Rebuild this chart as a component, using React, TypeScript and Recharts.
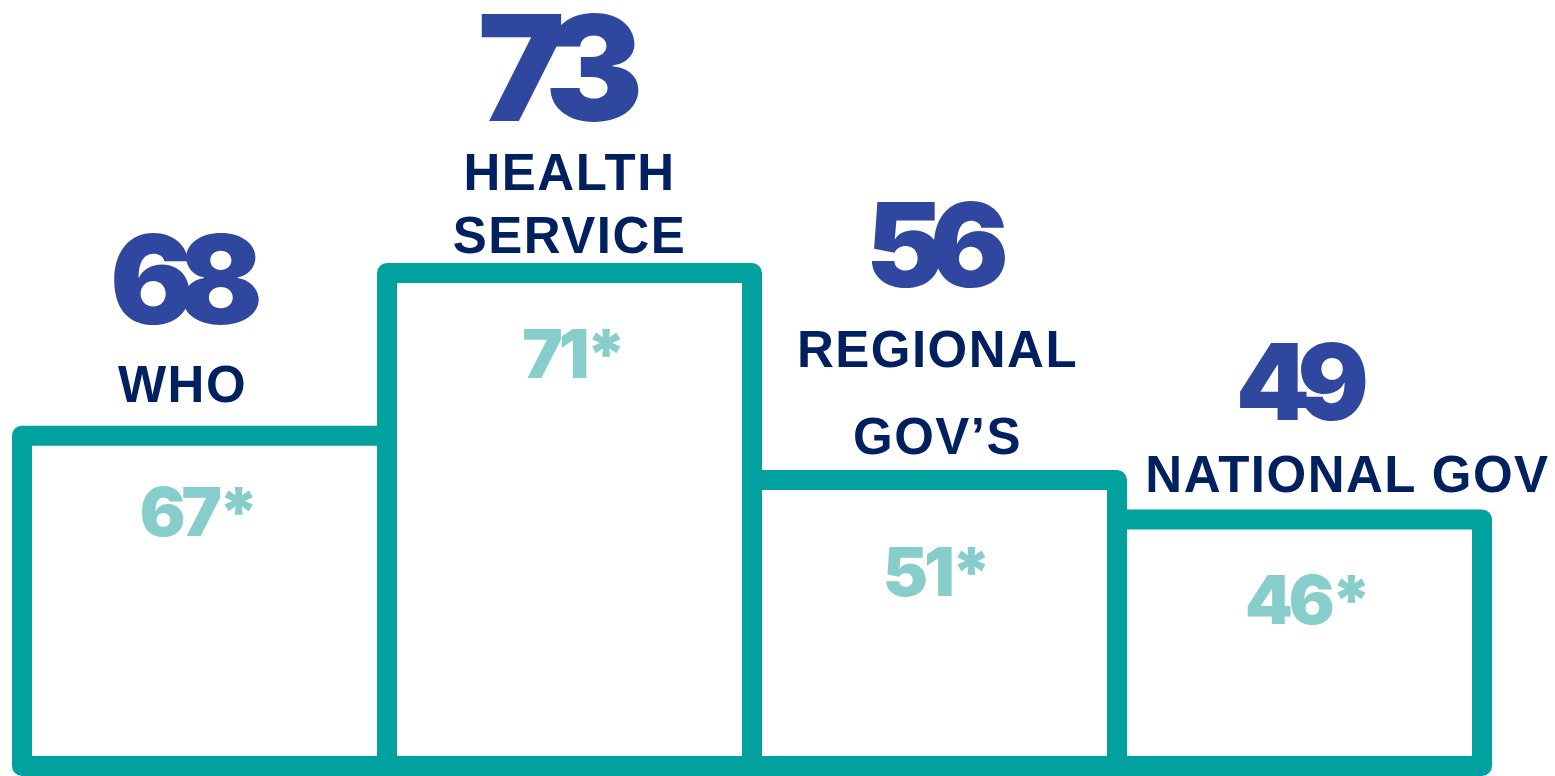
import React from 'react'
import { BarChart, Bar, XAxis, YAxis, LabelList } from 'recharts'

// data
const categories = ['WHO', 'HEALTH\nSERVICE', 'REGIONAL\nGOV’S', 'NATIONAL GOV']
const headlineScores = [68, 73, 56, 49]
const starredScores = [67, 71, 51, 46]
// step heights on a 0-100 scale (tallest step = 100)
const stepLevels = [67, 100, 58, 50]

const chartData = categories.map((name, i) => ({
  name,
  level: stepLevels[i],
  score: headlineScores[i],
  starred: starredScores[i]
}))

const TEAL = '#00A19F'
const BLUE = '#3047A0'
const NAVY = '#00205F'
const LIGHT_TEAL = '#87CDCB'

// per-step label placement (relative to bar centre / bar top)
const labelLayout = [
  { numSize: 124, numDx: -18, numDy: -112, nameDx: -22, nameDy: -34, lineGap: 0, innerDx: -7, innerDy: 100 },
  { numSize: 147, numDx: -9, numDy: -152, nameDx: 0, nameDy: -20, lineGap: 63, innerDx: 3, innerDy: 105 },
  { numSize: 117, numDx: 3, numDy: -193, nameDx: 3, nameDy: -26, lineGap: 87, innerDx: 1, innerDy: 116 },
  { numSize: 106, numDx: 3, numDy: -100, nameDx: 48, nameDy: -28, lineGap: 0, innerDx: 7, innerDy: 104 }
]

const StepLabels = (props: any) => {
  const { x, y, width, index } = props
  const l = labelLayout[index]
  if (!l) return null
  const cx = x + width / 2
  const lines = categories[index].split('\n')
  // negative tracking also pulls the anchored centre, so pull it back
  const ls = -l.numSize * 0.12
  return (
    <g>
      <text
        x={cx + l.numDx + ls / 2}
        y={y + l.numDy}
        textAnchor="middle"
        fill={BLUE}
        fontFamily="Inter, Roboto, sans-serif"
        fontWeight={900}
        fontSize={l.numSize}
        letterSpacing={ls}
      >
        {headlineScores[index]}
      </text>
      {lines.map((line, i) => (
        <text
          key={i}
          x={cx + l.nameDx}
          y={y + l.nameDy - (lines.length - 1 - i) * l.lineGap}
          textAnchor="middle"
          fill={NAVY}
          fontFamily="'Liberation Sans', Arial, sans-serif"
          fontWeight={700}
          fontSize={51}
          letterSpacing={1.5}
        >
          {line}
        </text>
      ))}
      <text
        x={cx + l.innerDx}
        y={y + l.innerDy}
        textAnchor="middle"
        fill={LIGHT_TEAL}
        fontFamily="Inter, Roboto, sans-serif"
        fontWeight={900}
        fontSize={68}
        letterSpacing={-4}
      >
        {starredScores[index]}*
      </text>
    </g>
  )
}

export default function App() {
  return (
    <div style={{ position: 'absolute', left: 0, top: 0, background: '#fff' }}>
      <BarChart
        width={1555}
        height={776}
        data={chartData}
        margin={{ top: 273, right: 73, left: 22, bottom: 10 }}
        barCategoryGap={0}
      >
        <XAxis dataKey="name" hide />
        <YAxis hide domain={[0, 100]} />
        <Bar
          dataKey="level"
          fill="#ffffff"
          stroke={TEAL}
          strokeWidth={20}
          strokeLinejoin="round"
          isAnimationActive={false}
        >
          <LabelList dataKey="level" content={<StepLabels />} />
        </Bar>
      </BarChart>
    </div>
  )
}
